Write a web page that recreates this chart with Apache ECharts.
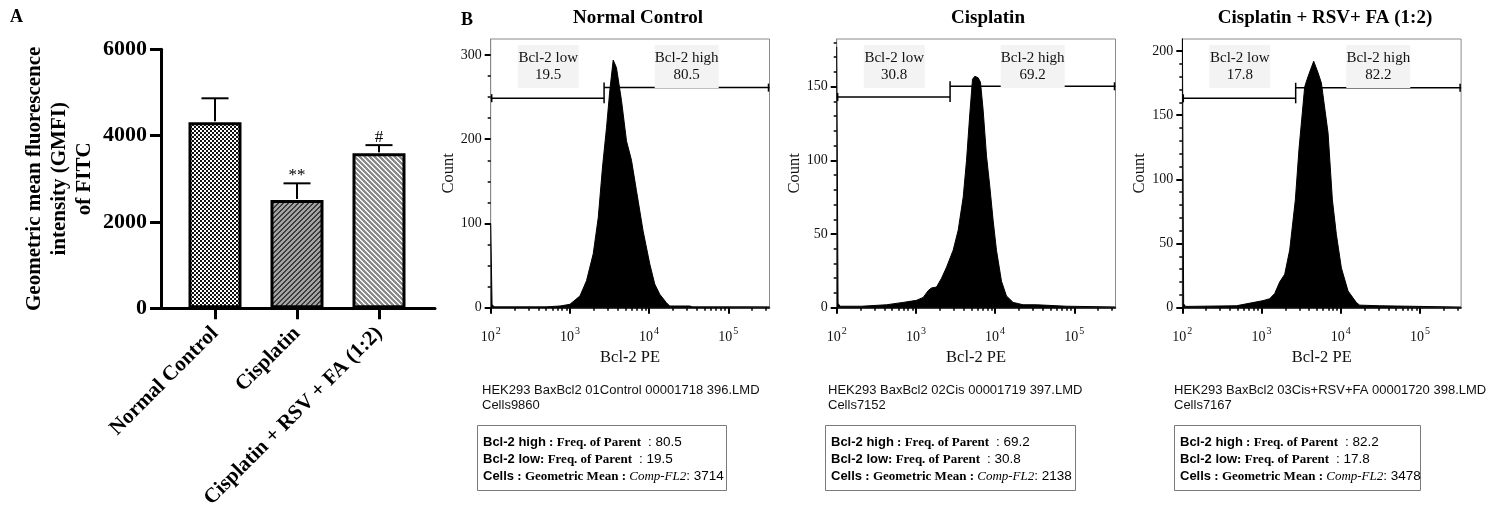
<!DOCTYPE html>
<html>
<head>
<meta charset="utf-8">
<script src="https://cdn.jsdelivr.net/npm/echarts@6/dist/echarts.min.js"></script>
<style>
  html, body { margin: 0; padding: 0; background: #fff; }
  #main { width: 1494px; height: 519px; }
</style>
</head>
<body>
<div id="main"></div>
<script>
// ---- panel A: GMFI of FITC ----
const groups = ['Normal Control', 'Cisplatin', 'Cisplatin + RSV + FA (1:2)'];
const gmfiMean = [4310, 2510, 3590];
const gmfiSd = [555, 385, 190];
const sigMarks = ['', '**', '#'];
const gmfiTicks = [0, 2000, 4000, 6000];

// ---- panel B: Bcl-2 PE histograms [intensity, count] ----
const histTitles = ['Normal Control', 'Cisplatin', 'Cisplatin + RSV+ FA (1:2)'];
const histControl = [[100, 100], [104, 4], [110, 1], [200, 1], [500, 1], [750, 2], [1000, 4], [1340, 14], [1620, 32],
  [1970, 64], [2280, 107], [2580, 167], [2900, 214], [3190, 258], [3520, 294], [3870, 285], [4480, 246], [5180, 198],
  [5990, 175], [6920, 139], [8400, 91], [10190, 52], [11780, 28], [13620, 16], [16520, 6], [18200, 2], [32600, 2],
  [35500, 1], [331000, 1]];
const histCis = [[100, 177], [104, 3], [110, 1], [207, 1], [427, 2], [692, 3.6], [1019, 5], [1237, 7], [1429, 11.6],
  [1574, 13.4], [1820, 14], [2107, 20], [2437, 27.5], [2954, 39], [3418, 52.6], [3954, 75], [4357, 100], [4800, 132],
  [5180, 155], [5543, 157], [6105, 156], [6535, 153], [7063, 134], [7785, 103], [8578, 82], [9450, 59], [10400, 39],
  [12030, 18], [13900, 8], [16870, 3.6], [22540, 2], [33200, 2], [79400, 1], [331000, 0.5]];
const histCombo = [[100, 230], [104, 3], [110, 1], [481, 1.5], [781, 4], [1045, 5.5], [1268, 7], [1466, 11], [1695, 20],
  [1962, 26], [2270, 45], [2675, 84], [2977, 124], [3508, 172], [3865, 180], [4558, 192], [5174, 183], [5700, 175],
  [6925, 136], [7850, 84], [8815, 57], [10190, 31], [12380, 13], [15780, 4], [17380, 2], [31100, 1.5], [331000, 0.5]];
const histData = [histControl, histCis, histCombo];
const histYMax = [319, 182.3, 209.3];
const histYTicks = [[0, 100, 200, 300], [0, 50, 100, 150], [0, 50, 100, 150, 200]];
const histYMinorStep = [25, 10, 10];
const histXTicks = [100, 1000, 10000, 100000];
const histXMin = 100, histXMax = 331000;

// gates
const gateSplit = [2700, 2700, 2700];
const gateLowY = [248.7, 143, 163.1];
const gateHighY = [261.3, 150.2, 171.3];
const lowPct = ['19.5', '30.8', '17.8'];
const highPct = ['80.5', '69.2', '82.2'];

// sample info
const fileNames = ['HEK293 BaxBcl2 01Control 00001718 396.LMD', 'HEK293 BaxBcl2 02Cis 00001719 397.LMD',
  'HEK293 BaxBcl2 03Cis+RSV+FA 00001720 398.LMD'];
const cellCounts = [9860, 7152, 7167];
const geoMeans = [3714, 2138, 3478];

const SERIF = '"Liberation Serif", "Times New Roman", serif';
const SANS = '"Liberation Sans", Arial, sans-serif';

// bar fill patterns
function checker() {
  const c = document.createElement('canvas');
  c.width = c.height = 4;
  const g = c.getContext('2d');
  g.fillStyle = '#fff'; g.fillRect(0, 0, 4, 4);
  g.fillStyle = '#111'; g.fillRect(0, 0, 2, 2); g.fillRect(2, 2, 2, 2);
  return c;
}
function stripes(base, ink, dir) {
  const n = 5, c = document.createElement('canvas');
  c.width = c.height = n;
  const g = c.getContext('2d');
  g.fillStyle = base; g.fillRect(0, 0, n, n);
  g.fillStyle = ink;
  for (let x = 0; x < n; x++) for (let y = 0; y < n; y++) {
    const k = dir > 0 ? (x + y) % n : ((x - y) % n + n) % n;
    if (k < 2) g.fillRect(x, y, 1, 1);
  }
  return c;
}
const fills = [checker(), stripes('#a4a4a4', '#3c3c3c', 1), stripes('#8a8a8a', '#f2f2f2', -1)];

const histLefts = [490.7, 836.7, 1182.3];
const HIST_W = 278.8, HIST_TOP = 39, HIST_H = 268.7;

const logMinor = [];
for (let e = 2; e <= 5; e++) for (let k = 2; k <= 9; k++) {
  const v = k * Math.pow(10, e);
  if (v < histXMax) logMinor.push(v);
}

const grid = [{ left: 161, top: 49.3, width: 274, height: 259 }];
const xAxis = [{
  gridIndex: 0, type: 'value', min: 0.3415, max: 3.683,
  axisLine: { lineStyle: { color: '#000', width: 3 } },
  axisTick: { customValues: [1, 2, 3], length: 11, lineStyle: { color: '#000', width: 3 } },
  axisLabel: {
    customValues: [1, 2, 3], formatter: v => groups[Math.round(v) - 1],
    rotate: 45, margin: 22, color: '#000', fontFamily: SERIF, fontWeight: 'bold', fontSize: 21
  },
  splitLine: { show: false }
}];
const yAxis = [{
  gridIndex: 0, type: 'value', min: 0, max: 6000,
  name: 'Geometric mean fluorescence\nintensity (GMFI)\nof FITC',
  nameLocation: 'middle', nameGap: 64,
  nameTextStyle: { fontFamily: SERIF, fontWeight: 'bold', fontSize: 21, lineHeight: 25, color: '#000' },
  axisLine: { show: true, lineStyle: { color: '#000', width: 3 } },
  axisTick: { show: true, customValues: gmfiTicks, length: 11, lineStyle: { color: '#000', width: 3 } },
  axisLabel: {
    customValues: gmfiTicks, formatter: v => String(v), margin: 14,
    fontFamily: SERIF, fontWeight: 'bold', fontSize: 22, color: '#000'
  },
  splitLine: { show: false }
}];

const series = [{
  type: 'bar', xAxisIndex: 0, yAxisIndex: 0, barWidth: 53,
  data: gmfiMean.map((m, i) => ({
    value: [i + 1, m],
    itemStyle: { color: { image: fills[i], repeat: 'repeat' }, borderColor: '#000', borderWidth: 3 }
  })),
  z: 2
}, {
  type: 'custom', xAxisIndex: 0, yAxisIndex: 0, z: 3,
  data: gmfiMean.map((m, i) => [i + 1, m, gmfiSd[i]]),
  renderItem(params, api) {
    const x = api.value(0), m = api.value(1), sd = api.value(2);
    const base = api.coord([x, m]), top = api.coord([x, m + sd]);
    const st = { stroke: '#000', lineWidth: 2 };
    return {
      type: 'group', children: [
        { type: 'line', shape: { x1: base[0], y1: base[1] - 1, x2: top[0], y2: top[1] }, style: st },
        { type: 'line', shape: { x1: top[0] - 13.5, y1: top[1], x2: top[0] + 13.5, y2: top[1] }, style: st },
        {
          type: 'text', style: {
            text: sigMarks[params.dataIndex], x: top[0], y: top[1] + 1,
            align: 'center', verticalAlign: 'bottom',
            fontFamily: SERIF, fontSize: 17, fill: '#000'
          }
        }
      ]
    };
  }
}];

histLefts.forEach((left, i) => {
  grid.push({ left: left, top: HIST_TOP, width: HIST_W, height: HIST_H, show: true, borderColor: '#8a8a8a', borderWidth: 1 });
  const gi = i + 1;
  const ax = 1 + i * 2;
  const yMinor = [];
  for (let v = histYMinorStep[i]; v < histYMax[i]; v += histYMinorStep[i]) {
    if (histYTicks[i].indexOf(v) < 0) yMinor.push(v);
  }
  xAxis.push({
    gridIndex: gi, type: 'log', position: 'bottom', min: histXMin, max: histXMax,
    name: 'Bcl-2 PE', nameLocation: 'middle', nameGap: 40,
    nameTextStyle: { fontFamily: SERIF, fontSize: 16.5, color: '#111' },
    axisLine: { lineStyle: { color: '#000', width: 1.5 } },
    axisTick: { customValues: histXTicks, length: 6, lineStyle: { color: '#000', width: 2 } },
    axisLabel: {
      customValues: histXTicks, margin: 17,
      formatter: v => '{b|10}{s|' + Math.round(Math.log10(v)) + '}',
      rich: {
        b: { fontFamily: SERIF, fontSize: 14, color: '#111', padding: [6, 0, 0, 0] },
        s: { fontFamily: SERIF, fontSize: 10, color: '#111', padding: [0, 0, 6, 1] }
      }
    },
    splitLine: { show: false }
  }, {
    gridIndex: gi, type: 'log', position: 'bottom', min: histXMin, max: histXMax,
    axisLine: { show: false },
    axisTick: { customValues: logMinor, length: 3, lineStyle: { color: '#000', width: 1.5 } },
    axisLabel: { show: false },
    splitLine: { show: false }
  });
  yAxis.push({
    gridIndex: gi, type: 'value', position: 'left', min: 0, max: histYMax[i],
    name: 'Count', nameLocation: 'middle', nameGap: 32,
    nameTextStyle: { fontFamily: SERIF, fontSize: 16.5, color: '#111' },
    axisLine: { show: true, lineStyle: { color: '#8a8a8a', width: 1 } },
    axisTick: { show: true, customValues: histYTicks[i], length: 6, lineStyle: { color: '#000', width: 2 } },
    axisLabel: { customValues: histYTicks[i], margin: 9, fontFamily: SERIF, fontSize: 14, color: '#111' },
    splitLine: { show: false }
  }, {
    gridIndex: gi, type: 'value', position: 'left', min: 0, max: histYMax[i],
    axisLine: { show: false },
    axisTick: { show: true, customValues: yMinor, length: 3, lineStyle: { color: '#000', width: 1.5 } },
    axisLabel: { show: false },
    splitLine: { show: false }
  });
  series.push({
    type: 'line', xAxisIndex: ax, yAxisIndex: ax, data: histData[i],
    showSymbol: false, symbol: 'none', silent: true,
    lineStyle: { color: '#000', width: 1 },
    areaStyle: { color: '#000', opacity: 1 }, z: 2
  }, {
    type: 'custom', xAxisIndex: ax, yAxisIndex: ax, z: 4, silent: true,
    data: [[gateSplit[i], gateLowY[i], gateHighY[i]]],
    renderItem(params, api) {
      const cs = params.coordSys;
      const split = api.value(0), yl = api.value(1), yh = api.value(2);
      const a = api.coord([histXMin, yl]);
      const b = api.coord([split, yl]);
      const c = api.coord([split, yh]);
      const d = api.coord([histXMax, yh]);
      const st = { stroke: '#000', lineWidth: 1.5 };
      const lab = (x, w, t1, t2) => ([
        { type: 'rect', shape: { x: cs.x + x, y: 45, width: w, height: 43 }, style: { fill: '#f3f3f3' } },
        {
          type: 'text', style: {
            text: t1 + '\n' + t2, x: cs.x + x + w / 2, y: 67, align: 'center', verticalAlign: 'middle',
            fontFamily: SERIF, fontSize: 15, lineHeight: 17, fill: '#111'
          }
        }
      ]);
      return {
        type: 'group', children: [
          { type: 'line', shape: { x1: a[0], y1: a[1], x2: b[0], y2: b[1] }, style: st },
          { type: 'line', shape: { x1: a[0] + 1, y1: a[1] - 4, x2: a[0] + 1, y2: a[1] + 4 }, style: st },
          { type: 'line', shape: { x1: c[0], y1: c[1], x2: d[0], y2: d[1] }, style: st },
          { type: 'line', shape: { x1: b[0], y1: c[1] - 5, x2: b[0], y2: b[1] + 5 }, style: st },
          { type: 'line', shape: { x1: d[0] - 1, y1: d[1] - 4, x2: d[0] - 1, y2: d[1] + 4 }, style: st },
          ...lab(27, 61, 'Bcl-2 low', lowPct[i]),
          ...lab(164, 64, 'Bcl-2 high', highPct[i])
        ]
      };
    }
  });
});

// texts: panel letters, titles, sample info and stat boxes
const graphic = [
  { type: 'text', left: 10, top: 8, style: { text: 'A', fontFamily: SERIF, fontWeight: 'bold', fontSize: 18, fill: '#000' } },
  { type: 'text', left: 461, top: 11, style: { text: 'B', fontFamily: SERIF, fontWeight: 'bold', fontSize: 18, fill: '#000' } }
];
const titleX = [638, 988, 1325];
const infoX = [482, 828, 1174];
const boxX = [477, 825, 1174];
const boxW = [249, 250, 246];
const rich = {
  k: { fontFamily: SANS, fontWeight: 'bold', fontSize: 13, fill: '#000' },
  m: { fontFamily: SERIF, fontWeight: 'bold', fontSize: 13, fill: '#000' },
  i: { fontFamily: SERIF, fontStyle: 'italic', fontSize: 13, fill: '#000' },
  v: { fontFamily: SANS, fontSize: 13.5, fill: '#000' }
};
histTitles.forEach((t, i) => {
  graphic.push({
    type: 'text', x: titleX[i], y: 18,
    style: { text: t, align: 'center', verticalAlign: 'middle', fontFamily: SERIF, fontWeight: 'bold', fontSize: 19, fill: '#000' }
  });
  graphic.push({
    type: 'text', x: infoX[i], y: 383,
    style: { text: fileNames[i] + '\nCells' + cellCounts[i], fontFamily: SANS, fontSize: 13, lineHeight: 15, fill: '#111' }
  });
  graphic.push({
    type: 'rect', shape: { x: boxX[i] + 0.5, y: 425.5, width: boxW[i], height: 65 },
    style: { fill: 'none', stroke: '#7a7a7a', lineWidth: 1 }
  });
  const rows = [
    '{k|Bcl-2 high}{m| : Freq. of Parent }{v| : ' + highPct[i] + '}',
    '{k|Bcl-2 low}{m|: Freq. of Parent }{v| : ' + lowPct[i] + '}',
    '{k|Cells}{m| : Geometric Mean : }{i|Comp-FL2}{v|: ' + geoMeans[i] + '}'
  ];
  rows.forEach((r, j) => {
    graphic.push({
      type: 'text', x: boxX[i] + 6, y: 442.5 + j * 17,
      style: { text: r, rich: rich, verticalAlign: 'middle', fontFamily: SANS, fontSize: 13 }
    });
  });
});

const chart = echarts.init(document.getElementById('main'));
chart.setOption({
  animation: false,
  backgroundColor: '#fff',
  grid: grid,
  xAxis: xAxis,
  yAxis: yAxis,
  series: series,
  graphic: graphic
});
</script>
</body>
</html>
